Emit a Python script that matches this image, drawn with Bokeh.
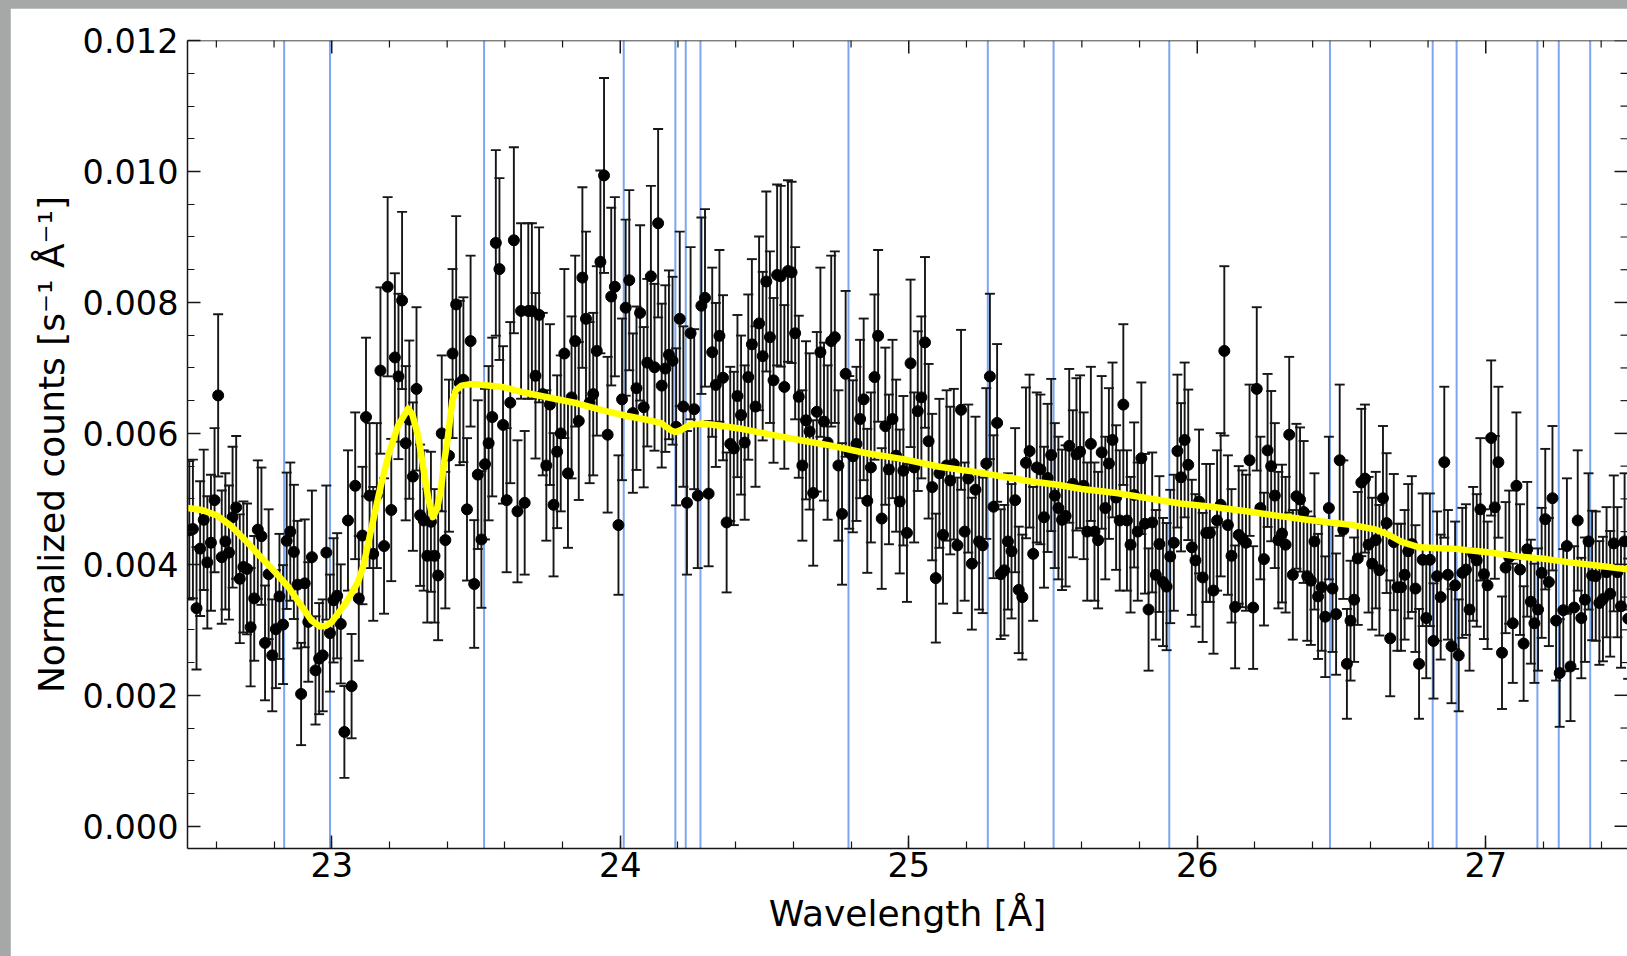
import re
import numpy as np
from bokeh.plotting import figure
from bokeh.models import (ColumnDataSource, Whisker, Span, Range1d,
                          SingleIntervalTicker, PrintfTickFormatter, TeeHead)
from bokeh.embed import file_html
from bokeh.resources import INLINE

# ---------------- data ----------------
wave_start = 22.5          # first bin edge [A]
bin_width = 0.0125         # spectral bin width [A]

# normalized counts in units of 1e-3 s^-1 A^-1, one value per bin
flux_a = [4.52, 4.54, 3.33, 4.24, 4.68, 4.03, 4.33, 4.98, 6.58, 4.11, 4.35, 4.18, 4.72, 4.87, 3.78, 3.96, 3.93,
          3.04, 3.48, 4.53, 4.43, 2.80, 3.85, 2.61, 3.01, 3.51, 3.08, 4.36, 4.50, 4.19, 3.69, 2.02, 3.71, 3.12,
          4.11, 2.38, 2.56, 2.61, 4.18, 2.95, 3.45, 3.52, 3.09, 1.44, 4.67, 2.14, 5.20, 3.48, 4.44, 6.25, 5.05,
          4.16, 5.05, 6.96, 4.28, 8.24, 4.83, 7.16, 6.87, 8.03, 5.85, 6.21, 5.34, 6.68, 4.75, 4.67, 4.13]
flux_b = [4.65, 4.13, 3.83, 6.00, 4.37, 5.66, 7.22, 7.97, 6.77, 6.82, 4.84, 7.41, 3.70, 5.37, 4.38, 5.53, 5.85,
          6.25, 8.91, 8.51, 6.13, 4.98, 6.47, 8.95, 4.81, 7.87, 4.94, 7.87, 7.87, 6.88, 7.81, 6.60, 5.51, 6.44,
          4.91, 5.72, 6.00, 7.22, 5.39, 6.55, 7.41, 6.19, 8.38, 7.75, 6.47, 6.60, 7.26, 8.62, 9.94, 5.98, 8.09,
          8.24, 4.60, 6.52, 7.92, 8.34, 6.31, 6.69, 7.84, 6.40, 7.08, 8.40, 7.01, 9.21, 6.73, 6.99, 7.20]
flux_c = [7.11, 6.10, 7.75, 6.41, 4.94, 7.53, 6.37, 5.05, 7.95, 8.07, 5.08, 7.24, 6.74, 7.49, 6.85, 4.64, 5.84,
          5.77, 6.57, 6.28, 5.86, 6.86, 7.36, 6.41, 7.68, 7.18, 8.32, 7.47, 6.81, 8.42, 8.40, 6.71, 8.48, 8.46,
          7.53, 6.56, 5.51, 6.20, 6.03, 5.09, 6.33, 7.24, 6.18, 5.86, 7.41, 7.47, 5.51, 4.77, 6.91, 5.71, 5.65,
          5.84, 6.22, 6.52, 4.97, 5.48, 6.86, 7.49, 4.70, 6.11, 5.45, 6.22, 5.66, 4.96, 5.43, 4.48, 7.07]
flux_d = [5.48, 6.34, 6.55, 7.39, 5.88, 5.18, 3.79, 5.39, 4.45, 5.51, 5.28, 5.53, 4.29, 6.36, 4.50, 5.31, 4.01,
          5.14, 4.35, 4.29, 5.54, 6.87, 4.88, 6.16, 3.85, 3.91, 4.35, 4.20, 4.98, 3.61, 3.50, 5.55, 5.73, 4.16,
          5.48, 5.45, 4.72, 5.32, 5.67, 5.05, 4.86, 4.68, 4.74, 5.81, 5.23, 5.68, 5.72, 5.20, 4.50, 5.84, 4.50,
          4.37, 5.71, 4.86, 5.54, 5.90, 5.02, 4.67, 6.44, 4.67, 4.30, 5.06, 4.50, 5.62, 4.62, 3.31]
flux_e = [4.64, 3.84, 4.31, 3.73, 3.66, 4.12, 4.33, 5.73, 5.33, 5.90, 5.52, 4.26, 4.06, 4.96, 3.80, 4.48, 4.48,
          3.60, 4.67, 4.91, 7.26, 4.60, 4.13, 3.35, 4.45, 4.39, 4.33, 5.59, 3.34, 6.68, 4.86, 4.08, 5.74, 5.50,
          5.05, 4.37, 4.47, 4.30, 5.98, 3.84, 5.04, 4.99, 4.80, 3.82, 3.75, 4.35, 3.51, 3.65, 3.20, 4.86, 3.63,
          3.24, 5.59, 4.53, 2.48, 3.14, 3.46, 4.09, 5.25, 5.31, 4.30, 4.01, 4.37, 3.91, 5.01, 4.63, 2.87]
flux_f = [4.34, 3.65, 3.65, 3.84, 4.20, 4.31, 3.63, 2.48, 4.07, 3.18, 4.07, 2.83, 3.82, 3.50, 5.56, 3.84, 2.75,
          3.68, 2.61, 3.87, 3.92, 3.31, 4.16, 4.06, 4.84, 3.85, 3.68, 5.93, 4.87, 5.56, 2.65, 3.95, 4.11, 3.10,
          5.20, 3.92, 2.79, 4.23, 3.43, 3.10, 3.31, 3.87, 4.69, 3.73, 5.01, 3.14, 2.34, 3.30, 4.28, 2.44, 3.34,
          4.67, 3.18, 3.46, 4.35, 3.83, 3.82, 3.41, 3.47, 3.88, 3.55, 4.32, 3.88, 3.36, 4.35, 3.17]

# error bars follow the counting statistics seen in the picture: err^2 = a + b*flux
err_a = 0.20e-6
err_b = 0.203e-3

# model curve (yellow)
model_wave = [22.50, 22.55, 22.60, 22.65, 22.70, 22.75, 22.80, 22.85, 22.90, 22.93, 22.96, 22.98, 23.00,
              23.05, 23.09, 23.11, 23.135, 23.17, 23.20, 23.23, 23.265, 23.28, 23.30, 23.32, 23.335, 23.35,
              23.365, 23.378, 23.39, 23.40, 23.418, 23.43, 23.45, 23.48, 23.50, 23.59, 23.67, 23.76, 23.85,
              23.95, 24.02, 24.10, 24.14, 24.175, 24.19, 24.21, 24.24, 24.285, 24.34, 24.42, 24.50, 24.62,
              24.735, 24.85, 24.99, 25.105, 25.22, 25.34, 25.42, 25.51, 25.60, 25.72, 25.83, 25.94, 26.05,
              26.17, 26.28, 26.38, 26.46, 26.54, 26.62, 26.66, 26.71, 26.77, 26.885, 27.00, 27.115, 27.21,
              27.29, 27.37, 27.50]
model_flux = [4.86, 4.83, 4.75, 4.59, 4.37, 4.13, 3.90, 3.65, 3.33, 3.14, 3.05, 3.06, 3.12,
              3.42, 3.72, 3.98, 4.50, 5.20, 5.72, 6.12, 6.38, 6.28, 5.95, 5.40, 5.00, 4.72,
              4.85, 5.13, 5.58, 5.85, 6.50, 6.66, 6.73, 6.75, 6.75, 6.71, 6.62, 6.54, 6.46,
              6.34, 6.27, 6.20, 6.16, 6.05, 6.02, 6.05, 6.13, 6.15, 6.12, 6.07, 6.00, 5.90,
              5.81, 5.70, 5.60, 5.49, 5.42, 5.33, 5.27, 5.22, 5.15, 5.09, 5.01, 4.93, 4.88,
              4.81, 4.74, 4.68, 4.64, 4.60, 4.53, 4.46, 4.34, 4.26, 4.24, 4.19, 4.12, 4.08,
              4.03, 3.99, 3.92]

# vertical reference lines [A]
line_wave = [22.835, 22.994, 23.528, 24.012, 24.191, 24.227, 24.278, 24.791, 25.274, 25.502,
             25.903, 26.460, 26.816, 26.899, 27.179, 27.253, 27.362]

# axis limits and tick spacing
x_lo, x_hi = 22.5, 27.4913
y_lo, y_hi = -0.00034, 0.012001
x_major, x_minor = 1.0, 0.2
y_major, y_minor = 0.002, 0.0005

# ---------------- derived ----------------
flux = np.array(flux_a + flux_b + flux_c + flux_d + flux_e + flux_f) * 1e-3
wave = wave_start + bin_width * (np.arange(len(flux)) + 0.5)
err = np.sqrt(err_a + err_b * flux)

FONT = "DejaVu Sans"
TICK_FS = "33.5px"
LABEL_FS = "36px"
INK = "#161616"

p = figure(width=1617, height=948, output_backend="svg", toolbar_location=None,
           x_range=Range1d(x_lo, x_hi), y_range=Range1d(y_lo, y_hi))
p.min_border_left = 177
p.min_border_right = 0
p.min_border_top = 32
p.min_border_bottom = 108
p.outline_line_color = None
p.background_fill_color = "white"
p.border_fill_color = "white"
p.xgrid.visible = False
p.ygrid.visible = False


def style_axis(ax, ticker):
    ax.ticker = ticker
    ax.major_tick_in = 13
    ax.major_tick_out = 0
    ax.minor_tick_in = 7
    ax.minor_tick_out = 0
    ax.major_tick_line_width = 1.5
    ax.minor_tick_line_width = 1.2
    ax.major_tick_line_color = INK
    ax.minor_tick_line_color = INK
    ax.axis_line_color = INK
    ax.axis_line_width = 1.5
    ax.major_label_text_font = FONT
    ax.major_label_text_font_size = TICK_FS
    ax.major_label_text_color = "black"
    ax.axis_label_text_font = FONT
    ax.axis_label_text_font_size = LABEL_FS
    ax.axis_label_text_font_style = "normal"
    ax.axis_label_text_color = "black"


xa = p.xaxis[0]
style_axis(xa, SingleIntervalTicker(interval=x_major, num_minor_ticks=5))
xa.major_label_standoff = 3
xa.axis_label = "Wavelength [Å]"
xa.axis_label_standoff = 13

ya = p.yaxis[0]
style_axis(ya, SingleIntervalTicker(interval=y_major, num_minor_ticks=4))
ya.formatter = PrintfTickFormatter(format="%.3f")
ya.major_label_standoff = 9
ya.axis_label = "Normalized counts [s⁻¹ Å⁻¹]"
ya.axis_label_standoff = 8

# top spine and inward ticks on the top and right edges (same tick values as the axes)
p.add_layout(Span(location=y_hi, dimension="width", line_color=INK, line_width=1.5))
x_tick_vals = np.round(np.arange(22.6, x_hi, x_minor), 3)
x_maj = [v for v in x_tick_vals if abs(v - round(v)) < 1e-6]
x_min = [v for v in x_tick_vals if abs(v - round(v)) >= 1e-6]
y_tick_vals = np.round(np.arange(0.0, y_hi, y_minor), 5)
y_maj = [v for v in y_tick_vals if abs(v / y_major - round(v / y_major)) < 1e-6]
y_min = [v for v in y_tick_vals if abs(v / y_major - round(v / y_major)) >= 1e-6]

for lw in line_wave:
    p.add_layout(Span(location=lw, dimension="height", line_color="#7ca6ef",
                      line_width=2.0, level="underlay"))

src = ColumnDataSource(dict(x=wave, y=flux, upper=flux + err, lower=flux - err))
wh = Whisker(base="x", upper="upper", lower="lower", source=src, level="underlay",
             line_color=INK, line_width=1.9,
             upper_head=TeeHead(size=10, line_color=INK, line_width=1.9),
             lower_head=TeeHead(size=10, line_color=INK, line_width=1.9))
p.add_layout(wh)

p.scatter("x", "y", source=src, size=11, fill_color="black", line_color="black")
p.line(model_wave, np.array(model_flux) * 1e-3, line_color="#ffff00", line_width=6.5,
       line_join="round", line_cap="round")

p.scatter(x_maj, [y_hi] * len(x_maj), marker="dash", angle=np.pi / 2, size=26,
          line_color=INK, line_width=1.5)
p.scatter(x_min, [y_hi] * len(x_min), marker="dash", angle=np.pi / 2, size=14,
          line_color=INK, line_width=1.2)
p.scatter([x_hi] * len(y_maj), y_maj, marker="dash", size=26, line_color=INK, line_width=1.5)
p.scatter([x_hi] * len(y_min), y_min, marker="dash", size=14, line_color=INK, line_width=1.2)

html = file_html(p, INLINE, title="spectrum")
head_end = html.index("</head>")
tail = re.sub(r"<body[^>]*>",
              '<body style="margin:0; padding:8px 0 0 10px; background-color:#a5a8a6;">',
              html[head_end:], count=1)
html = html[:head_end] + tail
open("out.html", "w").write(html)
